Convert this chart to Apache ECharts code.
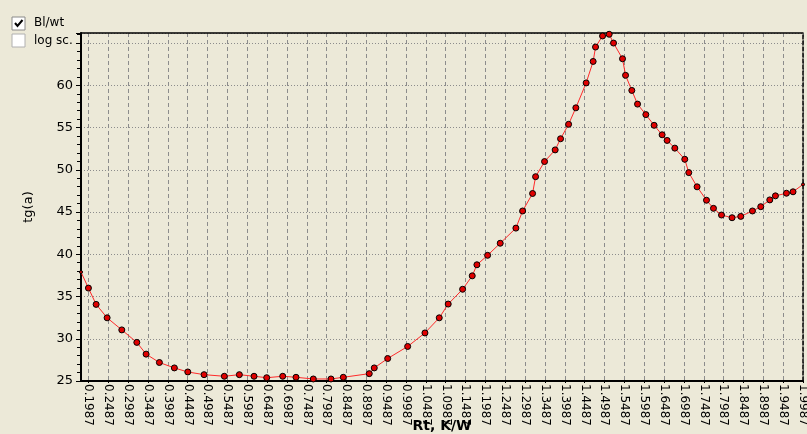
<!DOCTYPE html>
<html>
<head>
<meta charset="utf-8">
<script src="https://cdn.jsdelivr.net/npm/echarts@6/dist/echarts.min.js"></script>
<style>
  html, body { margin: 0; padding: 0; background: #ECE9D8; }
  #chart { width: 807px; height: 434px; }
</style>
</head>
<body>
<div id="chart"></div>
<script>
// data
const rtValues = [
  0.18, 0.1987, 0.2181, 0.2458, 0.2828, 0.3206, 0.3440, 0.3775, 0.4152, 0.4490,
  0.4900, 0.5411, 0.5789, 0.6159, 0.6478, 0.6881, 0.7216, 0.7652, 0.8097, 0.8407,
  0.9061, 0.9187, 0.9525, 1.0028, 1.0464, 1.0824, 1.1050, 1.1413, 1.1655, 1.1773,
  1.2042, 1.2360, 1.2755, 1.2924, 1.3175, 1.3251, 1.3477, 1.3744, 1.3880, 1.4082,
  1.4265, 1.4525, 1.4701, 1.4761, 1.4938, 1.5104, 1.5214, 1.5441, 1.5517, 1.5675,
  1.5819, 1.6028, 1.6237, 1.6438, 1.6564, 1.6758, 1.7009, 1.7110, 1.7319, 1.7556,
  1.7732, 1.7934, 1.8200, 1.8419, 1.8714, 1.8923, 1.9150, 1.9293, 1.9570, 1.9736,
  1.9987
]
const tgValues = [
  37.9, 36.0, 34.07, 32.48, 31.05, 29.57, 28.18, 27.19, 26.55, 26.07,
  25.75, 25.56, 25.75, 25.56, 25.39, 25.56, 25.44, 25.24, 25.24, 25.44,
  25.87, 26.55, 27.66, 29.09, 30.69, 32.48, 34.11, 35.86, 37.45, 38.76,
  39.88, 41.31, 43.10, 45.13, 47.20, 49.19, 50.98, 52.36, 53.68, 55.39,
  57.34, 60.29, 62.83, 64.54, 65.85, 66.05, 65.01, 63.15, 61.19, 59.40,
  57.78, 56.54, 55.27, 54.15, 53.48, 52.57, 51.25, 49.67, 47.99, 46.40,
  45.44, 44.65, 44.33, 44.49, 45.13, 45.64, 46.44, 46.92, 47.23, 47.40,
  48.27
]
const xTickLabels = [
  '0.1987', '0.2487', '0.2987', '0.3487', '0.3987', '0.4487', '0.4987', '0.5487',
  '0.5987', '0.6487', '0.6987', '0.7487', '0.7987', '0.8487', '0.8987', '0.9487',
  '0.9987', '1.0487', '1.0987', '1.1487', '1.1987', '1.2487', '1.2987', '1.3487',
  '1.3987', '1.4487', '1.4987', '1.5487', '1.5987', '1.6487', '1.6987', '1.7487',
  '1.7987', '1.8487', '1.8987', '1.9487', '1.9987'
]
const yTickLabels = [25, 30, 35, 40, 45, 50, 55, 60]

const chart = echarts.init(document.getElementById('chart'))

const xTicks = xTickLabels.map(Number)
const seriesData = rtValues.map((x, i) => {
  const p = { value: [x, tgValues[i]] }
  // end points sit on the frame, drawn as small dots
  if (i === 0 || i === rtValues.length - 1) p.symbolSize = 3
  return p
})

const option = {
  backgroundColor: '#ECE9D8',
  animation: false,
  grid: { left: 81, right: 4, top: 33, bottom: 53, outerBoundsMode: 'none' },
  xAxis: [
    {
      type: 'value',
      min: 0.18,
      max: 1.9987,
      name: 'Rt, K/W',
      nameLocation: 'middle',
      nameGap: 38,
      nameMoveOverlap: false,
      nameTextStyle: { fontFamily: 'DejaVu Sans', fontSize: 14, fontWeight: 'bold', color: '#000' },
      axisLine: { lineStyle: { color: '#000', width: 2 } },
      axisTick: { show: true, customValues: xTicks, length: 2, lineStyle: { color: '#000' } },
      axisLabel: {
        customValues: xTicks,
        rotate: -90,
        margin: 3,
        fontFamily: 'DejaVu Sans',
        fontSize: 12,
        color: '#000',
        formatter: v => v.toFixed(4)
      },
      splitLine: { show: true, lineStyle: { color: '#8c8c8c', type: [4, 3], width: 1 } }
    },
    {
      type: 'value',
      position: 'top',
      min: 0.18,
      max: 1.9987,
      axisLine: { show: true, lineStyle: { color: '#000', width: 1.5 } },
      axisTick: { show: false },
      axisLabel: { show: false },
      splitLine: { show: false }
    }
  ],
  yAxis: [
    {
      type: 'value',
      min: 25,
      max: 66.2,
      interval: 5,
      name: 'tg(a)',
      nameLocation: 'middle',
      nameGap: 46,
      nameMoveOverlap: false,
      nameTextStyle: { fontFamily: 'DejaVu Sans', fontSize: 13, color: '#000' },
      axisLine: { show: true, lineStyle: { color: '#000', width: 2 } },
      axisTick: { show: true, length: 5, lineStyle: { color: '#000' } },
      minorTick: { show: true, splitNumber: 5, length: 4, lineStyle: { color: '#000' } },
      axisLabel: {
        margin: 8,
        fontFamily: 'DejaVu Sans',
        fontSize: 13,
        color: '#000',
        formatter: v => yTickLabels.includes(v) ? String(v) : ''
      },
      splitLine: { show: true, lineStyle: { color: '#8c8c8c', type: [1, 2], width: 1 } }
    },
    {
      type: 'value',
      position: 'right',
      min: 25,
      max: 66.2,
      axisLine: { show: true, lineStyle: { color: '#000', width: 1.5, type: [4, 2] } },
      axisTick: { show: false },
      axisLabel: { show: false },
      splitLine: { show: false }
    }
  ],
  series: [
    {
      type: 'line',
      data: seriesData,
      symbol: 'circle',
      symbolSize: 6,
      lineStyle: { color: '#ff2a2a', width: 1 },
      itemStyle: { color: '#e00000', borderColor: '#000', borderWidth: 1 }
    }
  ],
  graphic: [
    { type: 'rect', shape: { x: 12, y: 17, width: 13, height: 13 }, style: { fill: '#fff', stroke: '#8a8a8a', lineWidth: 1 } },
    { type: 'polyline', shape: { points: [[15, 23], [17.5, 26], [22.5, 20]] }, style: { stroke: '#000', lineWidth: 2, fill: null } },
    { type: 'text', x: 34, y: 23, style: { text: 'Bl/wt', fontFamily: 'DejaVu Sans', fontSize: 12, fill: '#000', verticalAlign: 'middle' } },
    { type: 'rect', shape: { x: 12, y: 34, width: 13, height: 13 }, style: { fill: '#fff', stroke: '#b0b0b0', lineWidth: 1 } },
    { type: 'text', x: 34, y: 41, style: { text: 'log sc.', fontFamily: 'DejaVu Sans', fontSize: 12, fill: '#000', verticalAlign: 'middle' } }
  ]
}
chart.setOption(option)
</script>
</body>
</html>
